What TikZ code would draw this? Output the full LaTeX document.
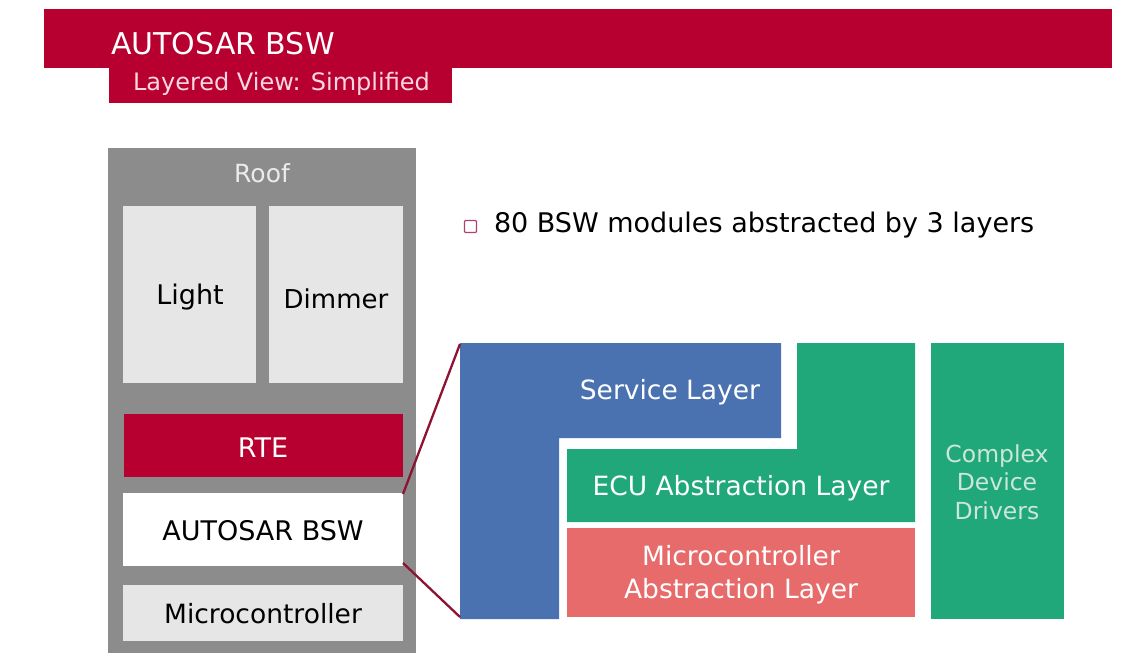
\documentclass[tikz,border=0pt]{standalone}
\usepackage{fontspec}
\setmainfont{DejaVu Sans}
\definecolor{titlered}{RGB}{183,0,48}
\definecolor{panelgrey}{RGB}{140,140,140}
\definecolor{lightbox}{RGB}{230,230,230}
\definecolor{svcblue}{RGB}{74,114,176}
\definecolor{ecugreen}{RGB}{32,168,122}
\definecolor{mcalred}{RGB}{232,107,107}
\definecolor{cddtext}{RGB}{205,230,218}
\definecolor{connred}{RGB}{140,20,50}
\definecolor{subtext}{RGB}{250,215,225}
\definecolor{bulletcol}{RGB}{176,64,112}
\newcommand\fs[1]{\fontsize{#1}{#1}\selectfont}
\begin{document}
\begin{tikzpicture}[x=1pt,y=-1pt,
  every node/.style={inner sep=0pt,outer sep=0pt},
  blk/.style={anchor=north west,rectangle,draw=none},
  conn/.style={draw=connred,line width=2.3pt},
  lbl/.style={font=\fs{26.5}}]
\useasboundingbox[fill=white] (0,0) rectangle (1127,664);
% header
\node[blk,fill=titlered,minimum width=1068pt,minimum height=59pt] (bar) at (44,9) {};
\node[blk,fill=titlered,minimum width=343pt,minimum height=35pt] (subbar) at (109,68) {};
\node[anchor=west,text=white,font=\fs{30}] (title) at (111,44) {AUTOSAR BSW};
\node[anchor=west,text=subtext,font=\fs{24}] (subtitle) at (133,84) {Layered View: Simplified};
% left panel
\node[blk,fill=panelgrey,minimum width=308pt,minimum height=505pt] (panel) at (108,148) {};
\node[text=white!92!black,font=\fs{25}] (roof) at (262,173) {Roof};
\node[blk,fill=lightbox,minimum width=133pt,minimum height=177pt] (light) at (123,206) {};
\node[font=\fs{27}] (lighttxt) at (190,297) {Light};
\node[blk,fill=lightbox,minimum width=134pt,minimum height=177pt] (dimmer) at (269,206) {};
\node[font=\fs{26}] (dimmertxt) at (336,299) {Dimmer};
\node[blk,fill=titlered,minimum width=279pt,minimum height=63pt] (rte) at (124,414) {};
\node[text=white,font=\fs{27}] (rtetxt) at (263,448) {RTE};
\node[blk,fill=white,minimum width=280pt,minimum height=73pt] (bsw) at (123,493) {};
\node[font=\fs{27}] (bswtxt) at (263,531) {AUTOSAR BSW};
\node[blk,fill=lightbox,minimum width=280pt,minimum height=56pt] (micro) at (123,585) {};
\node[lbl] (microtxt) at (263,614) {Microcontroller};
% bullet
\node[draw=bulletcol,line width=1.2pt,minimum size=12pt,rounded corners=1pt] (bul) at (470.5,226.5) {};
\node[anchor=west,font=\fs{27}] (bultxt) at (494,225) {80 BSW modules abstracted by 3 layers};
% right layered view
\fill[svcblue] (460,343) -- (781,343) -- (781,438) -- (559,438) -- (559,619) -- (460,619) -- cycle;
\fill[ecugreen] (797,343) -- (915,343) -- (915,522) -- (567,522) -- (567,449) -- (797,449) -- cycle;
\coordinate (blueTL) at (460,344);
\coordinate (blueBL) at (460,617);
\node[lbl,text=white] (svc) at (670,392) {Service Layer};
\node[lbl,text=white] (ecu) at (741,488) {ECU Abstraction Layer};
\node[blk,fill=mcalred,minimum width=348pt,minimum height=89pt] (mcal) at (567,528) {};
\node[text=white,align=center,font=\fontsize{26.5}{33}\selectfont] (mcaltxt) at (741,575) {Microcontroller\\Abstraction Layer};
\node[blk,fill=ecugreen,minimum width=133pt,minimum height=276pt] (cdd) at (931,343) {};
\node[text=cddtext,align=center,font=\fontsize{23.5}{28.5}\selectfont] (cddtxt) at (997,482) {Complex\\Device\\Drivers};
% connectors
\draw[conn] ([yshift=-1pt]bsw.north east) -- (blueTL);
\draw[conn] ([yshift=3pt]bsw.south east) -- (blueBL);
\end{tikzpicture}
\end{document}
